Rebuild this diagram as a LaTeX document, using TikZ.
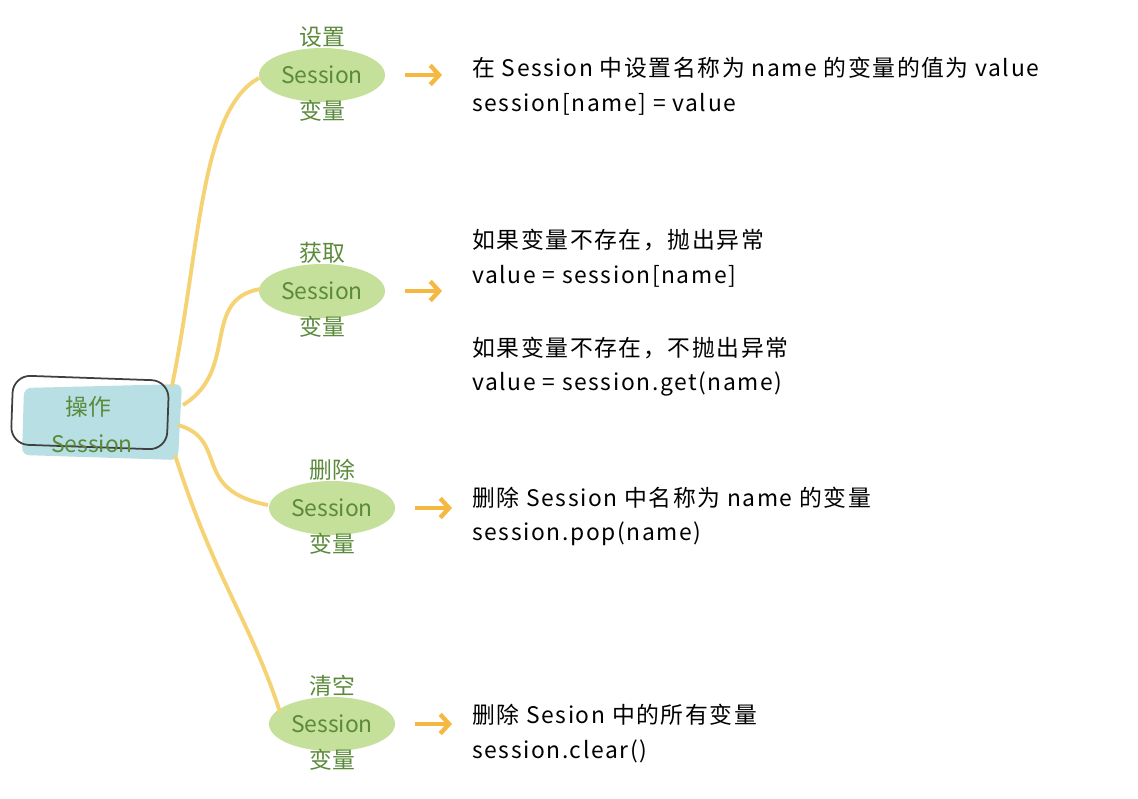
\documentclass[tikz,border=0pt]{standalone}
\usepackage{fontspec}
\setmainfont{Noto Sans CJK SC}
\newfontfamily\infofont[LetterSpace=7]{Noto Sans CJK SC}
\usetikzlibrary{arrows.meta}
\definecolor{leafgreen}{HTML}{C5E09A}
\definecolor{txtgreen}{HTML}{5A8A3A}
\definecolor{rootblue}{HTML}{B8DFE3}
\definecolor{linkyellow}{HTML}{F5D273}
\definecolor{arroworange}{HTML}{F5B942}
\begin{document}
\begin{tikzpicture}[x=0.02cm, y=-0.02cm,
    gtext/.style = {text=txtgreen, font=\fontsize{13}{15}\selectfont},
    info/.style = {anchor=west, font=\infofont\fontsize{13}{15}\selectfont, inner sep=0pt},
    link/.style = {draw=linkyellow, line width=2.2pt},
    pointer/.style = {draw=arroworange, line width=2.5pt, -{Straight Barb[length=5pt,width=11pt]}}]
    \useasboundingbox (0,0) rectangle (1138,798);
    % root
    \fill[rootblue, rounded corners=4pt] (24,388) -- (182,384) -- (178,460) -- (22,455) -- cycle;
    \draw[black!75, line width=1pt, rounded corners=10pt, rotate around={-2:(90,410)}] (12,378) rectangle (168,447);
    \node[gtext] (root) at (88,407) {操作};
    \node[gtext] (roots) at (92,444) {Session};
    \coordinate (r1) at (172,386);
    \coordinate (r2) at (183,405);
    \coordinate (r3) at (178,425);
    \coordinate (r4) at (175,455);
    % leaves
    \foreach \n/\x/\y/\t in {1/322/75/设置, 2/322/291/获取, 3/332/508/删除, 4/332/724/清空} {
        \fill[leafgreen] (\x,\y) ellipse (63 and 27);
        \node[gtext] (s\n) at (\x,\y) {Session};
        \node[gtext] (t\n) at (\x,\y-38) {\t};
        \node[gtext] (v\n) at (\x,\y+36) {变量};
        \coordinate (a\n) at (\x+83,\y);
        \coordinate (b\n) at (\x+120,\y);
        \draw[pointer] (a\n) -- (b\n);
    }
    \coordinate (l1) at (259,78);
    \coordinate (l2) at (260,289);
    \coordinate (l3) at (268,505);
    \coordinate (l4) at (280,712);
    % links
    \draw[link] (r1) .. controls (200,250) and (200,110) .. (l1);
    \draw[link] (r2) .. controls (240,370) and (200,300) .. (l2);
    \draw[link] (r3) .. controls (230,440) and (190,490) .. (l3);
    \draw[link] (r4) .. controls (215,580) and (250,620) .. (l4);
    % texts
    \node[info] (i1) at (472,68) {在 Session 中设置名称为 name 的变量的值为 value};
    \node[info] (c1) at (472,104) {session[name] = value};
    \node[info] (i2) at (472,240) {如果变量不存在，抛出异常};
    \node[info] (c2) at (472,276) {value = session[name]};
    \node[info] (i3) at (472,348) {如果变量不存在，不抛出异常};
    \node[info] (c3) at (472,384) {value = session.get(name)};
    \node[info] (i4) at (472,498) {删除 Session 中名称为 name 的变量};
    \node[info] (c4) at (472,534) {session.pop(name)};
    \node[info] (i5) at (472,715) {删除 Sesion 中的所有变量};
    \node[info] (c5) at (472,751) {session.clear()};
\end{tikzpicture}
\end{document}
